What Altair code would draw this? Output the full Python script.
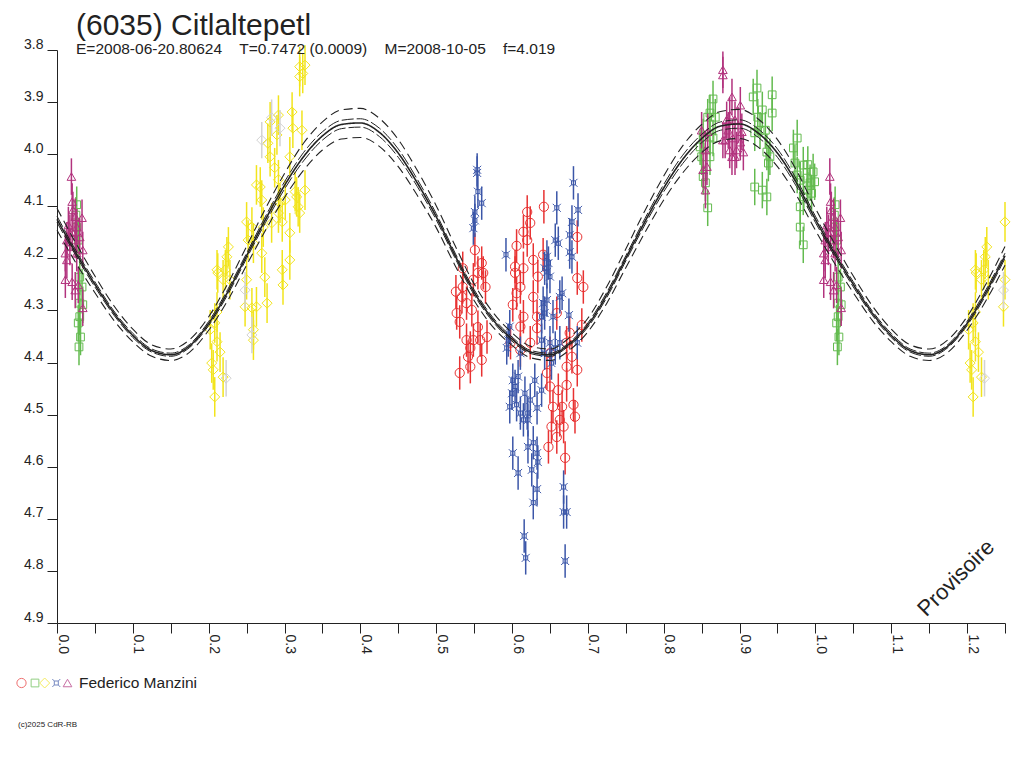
import altair as alt
import pandas as pd

TITLE = "(6035) Citlaltepetl"
SUBTITLE = "E=2008-06-20.80624\u00a0\u00a0\u00a0\u00a0T=0.7472 (0.0009)\u00a0\u00a0\u00a0\u00a0M=2008-10-05\u00a0\u00a0\u00a0\u00a0f=4.019"
OBSERVER = "Federico Manzini"
WATERMARK = "Provisoire"
COPYRIGHT = "(c)2025 CdR-RB"

x_ticks = [0.0, 0.05, 0.1, 0.15, 0.2, 0.25, 0.3, 0.35, 0.4, 0.45, 0.5, 0.55, 0.6,
           0.65, 0.7, 0.75, 0.8, 0.85, 0.9, 0.95, 1.0, 1.05, 1.1, 1.15, 1.2, 1.25]
y_ticks = [3.8, 3.9, 4.0, 4.1, 4.2, 4.3, 4.4, 4.5, 4.6, 4.7, 4.8, 4.9]

# model curve (phase 0..1 step 0.025)
curve_mag = [4.125, 4.19, 4.25, 4.305, 4.348, 4.377, 4.385, 4.368, 4.325, 4.265,
             4.195, 4.125, 4.06, 4.005, 3.965, 3.943, 3.940, 3.958, 3.998, 4.055,
             4.12, 4.195, 4.265, 4.318, 4.355, 4.380, 4.385, 4.365, 4.328, 4.27,
             4.20, 4.13, 4.065, 4.01, 3.97, 3.946, 3.942, 3.960, 3.998, 4.055, 4.125]
outer_hw = [0.021, 0.019, 0.016, 0.014, 0.012, 0.011, 0.011, 0.012, 0.013, 0.016,
            0.018, 0.021, 0.023, 0.026, 0.027, 0.028, 0.028, 0.027, 0.026, 0.024,
            0.021, 0.019, 0.016, 0.014, 0.012, 0.011, 0.011, 0.012, 0.013, 0.016,
            0.018, 0.021, 0.023, 0.026, 0.027, 0.028, 0.028, 0.027, 0.026, 0.024, 0.021]
inner_hw = [0.006, 0.005, 0.005, 0.004, 0.004, 0.003, 0.003, 0.003, 0.004, 0.005,
            0.005, 0.006, 0.007, 0.008, 0.008, 0.008, 0.008, 0.008, 0.008, 0.007,
            0.006, 0.005, 0.005, 0.004, 0.004, 0.003, 0.003, 0.003, 0.004, 0.005,
            0.005, 0.006, 0.007, 0.008, 0.008, 0.008, 0.008, 0.008, 0.008, 0.007, 0.006]

red_phase = [0.531, 0.526, 0.527, 0.535, 0.535, 0.534, 0.540, 0.545, 0.542, 0.551, 0.547, 0.549,
             0.540, 0.555, 0.560, 0.560, 0.565, 0.558, 0.567, 0.562, 0.555, 0.549, 0.531, 0.545,
             0.620, 0.642, 0.624, 0.615, 0.606, 0.620, 0.604, 0.604, 0.615, 0.628, 0.641, 0.634,
             0.606, 0.611, 0.628, 0.601, 0.615, 0.633, 0.611, 0.633, 0.624, 0.611, 0.598, 0.646,
             0.650, 0.654, 0.652, 0.659, 0.648, 0.663, 0.666, 0.668, 0.672, 0.670, 0.681, 0.683,
             0.679, 0.676, 0.686, 0.694, 0.692, 0.686, 0.686, 0.672, 0.659, 0.650, 0.661, 0.672]
red_mag = [4.420, 4.264, 4.305, 4.219, 4.255, 4.274, 4.286, 4.408, 4.389, 4.184, 4.299, 4.357,
           4.357, 4.332, 4.209, 4.395, 4.255, 4.357, 4.351, 4.228, 4.228, 4.241, 4.322, 4.372,
           4.111, 4.101, 4.132, 4.149, 4.176, 4.165, 4.216, 4.228, 4.219, 4.203, 4.193, 4.235,
           4.267, 4.255, 4.274, 4.289, 4.312, 4.312, 4.331, 4.334, 4.362, 4.376, 4.362, 4.420,
           4.446, 4.485, 4.523, 4.543, 4.562, 4.510, 4.485, 4.523, 4.443, 4.583, 4.481, 4.504,
           4.389, 4.343, 4.238, 4.255, 4.328, 4.159, 4.414, 4.362, 4.305, 4.382, 4.453, 4.408]

blue_phase = [0.554, 0.554, 0.555, 0.560, 0.551, 0.549, 0.551,
              0.592, 0.593, 0.597, 0.595, 0.601, 0.600, 0.604, 0.597, 0.606, 0.608, 0.611, 0.601,
              0.608, 0.611, 0.615, 0.620, 0.621, 0.624, 0.617, 0.630, 0.633, 0.621, 0.628, 0.633,
              0.634, 0.626, 0.633, 0.628, 0.616, 0.618, 0.639, 0.643, 0.639, 0.650, 0.652, 0.646,
              0.648, 0.646, 0.643, 0.650, 0.657, 0.659, 0.661, 0.666, 0.663, 0.646, 0.641, 0.643,
              0.654, 0.639, 0.676, 0.679, 0.681, 0.687, 0.676, 0.679, 0.675, 0.686, 0.663, 0.657,
              0.668, 0.668, 0.672, 0.670]
blue_mag = [4.030, 4.036, 4.072, 4.094, 4.111, 4.142, 4.127,
            4.193, 4.372, 4.331, 4.357, 4.434, 4.459, 4.446, 4.485, 4.481, 4.427, 4.382, 4.574,
            4.612, 4.497, 4.510, 4.497, 4.510, 4.472, 4.459, 4.434, 4.487, 4.562, 4.554, 4.574,
            4.591, 4.606, 4.643, 4.669, 4.733, 4.775, 4.453, 4.382, 4.357, 4.362, 4.401, 4.226,
            4.209, 4.197, 4.219, 4.235, 4.165, 4.103, 4.171, 4.267, 4.274, 4.280, 4.286, 4.305,
            4.312, 4.312, 4.155, 4.130, 4.055, 4.107, 4.188, 4.197, 4.309, 4.362, 4.362, 4.372,
            4.639, 4.687, 4.687, 4.781]

yellow_phase = [0.208, 0.219, 0.204, 0.206, 0.215, 0.211, 0.202, 0.211, 0.208, 0.212, 0.211, 0.222,
                0.224, 0.226, 0.219, 0.228, 0.248, 0.257, 0.259, 0.259, 0.263, 0.277, 0.250, 0.252,
                0.250, 0.257, 0.259, 0.270, 0.274, 0.272, 0.283, 0.263, 0.270, 0.268, 0.278, 0.281,
                0.281, 0.292, 0.290, 0.287, 0.292, 0.294, 0.301, 0.292, 0.297, 0.297, 0.298, 0.307,
                0.307, 0.307, 0.310, 0.311, 0.314, 0.316, 0.318, 0.320, 0.327, 0.323, 0.320, 0.324,
                0.320, 0.327]
yellow_mag = [4.466, 4.428, 4.401, 4.414, 4.380, 4.360, 4.337, 4.303, 4.324, 4.228, 4.222, 4.222,
              4.197, 4.178, 4.241, 4.241, 4.293, 4.295, 4.337, 4.357, 4.293, 4.286, 4.241, 4.165,
              4.130, 4.140, 4.171, 4.190, 4.236, 4.140, 4.132, 4.059, 4.088, 4.063, 3.979, 4.005,
              3.938, 3.925, 3.963, 4.026, 4.049, 4.094, 4.088, 4.113, 4.130, 4.222, 4.251, 4.203,
              4.151, 4.005, 3.919, 3.950, 4.072, 4.082, 4.101, 4.113, 4.069, 3.954, 3.832, 3.845,
              3.851, 3.829]

gray_phase = [0.223, 0.257, 0.270, 0.283, 0.294, 0.248]
gray_mag = [4.430, 4.347, 3.973, 3.930, 3.950, 4.261]

green_phase = [0.026, 0.025, 0.028, 0.030, 0.033, 0.030, 0.034, 0.030, 0.028, 0.031, 0.029, 0.026,
               0.858, 0.855, 0.852, 0.850, 0.848, 0.852, 0.858, 0.861, 0.865, 0.868, 0.861, 0.865,
               0.861, 0.918, 0.923, 0.943, 0.930, 0.924, 0.920, 0.927, 0.934, 0.943, 0.936, 0.940,
               0.938, 0.920, 0.930, 0.936, 0.976, 0.971, 0.973, 0.976, 0.980, 0.984, 0.989, 0.993,
               0.997, 0.999, 0.990, 0.984, 0.980, 0.980, 0.995, 0.984, 0.990]
green_mag = [4.097, 4.117, 4.165, 4.236, 4.255, 4.286, 4.289, 4.312, 4.324, 4.351, 4.370, 4.140,
             4.103, 4.055, 4.043, 4.005, 3.986, 3.967, 3.929, 3.921, 3.894, 3.929, 3.967, 3.969,
             4.005, 3.890, 3.873, 3.886, 3.915, 3.929, 3.959, 3.954, 3.954, 3.921, 3.996, 4.005,
             4.017, 4.063, 4.069, 4.082, 3.969, 3.988, 4.017, 4.040, 4.050, 4.021, 4.046, 4.055,
             4.034, 4.053, 4.069, 4.082, 4.101, 4.140, 4.075, 4.174, 4.020]

purple_phase = [0.019, 0.020, 0.021, 0.024, 0.033, 0.015, 0.026, 0.020, 0.030, 0.013, 0.024, 0.011,
                0.017, 0.034, 0.026, 0.011, 0.020, 0.024, 0.028, 0.034, 0.013, 0.017,
                0.878, 0.878, 0.890, 0.901, 0.887, 0.883, 0.894, 0.898, 0.885, 0.881, 0.891, 0.903,
                0.901, 0.887, 0.896, 0.905, 0.894, 0.890, 0.850, 0.858, 0.855, 0.857, 0.855, 0.852,
                0.878]
purple_mag = [4.043, 4.091, 4.107, 4.120, 4.122, 4.136, 4.140, 4.149, 4.159, 4.165, 4.165, 4.190,
              4.178, 4.184, 4.190, 4.241, 4.245, 4.261, 4.251, 4.295, 4.203, 4.151,
              3.848, 3.838, 3.890, 3.906, 3.925, 3.934, 3.934, 3.944, 3.954, 3.973, 3.969, 3.957,
              3.977, 3.992, 3.992, 3.996, 4.005, 4.005, 3.954, 3.957, 3.992, 4.024, 4.069, 4.030,
              3.973]

BLUE_PATH = ("M-0.5,-0.5L0.5,-0.5L0.5,0.5L-0.5,0.5Z "
             "M-0.5,-0.5L-1,-1 M0.5,-0.5L1,-1 M0.5,0.5L1,1 M-0.5,0.5L-1,1")

sessions = [
    # name, phases, mags, error, color, shape, size
    ("yellow", yellow_phase, yellow_mag, 0.038, "#f2e41c", "diamond", 100),
    ("gray", gray_phase, gray_mag, 0.035, "#d2d2d2", "diamond", 100),
    ("green", green_phase, green_mag, 0.035, "#63bb4f", "square", 60),
    ("red", red_phase, red_mag, 0.032, "#e83232", "circle", 85),
    ("blue", blue_phase, blue_mag, 0.032, "#3b56a8", BLUE_PATH, 64),
    ("purple", purple_phase, purple_mag, 0.035, "#b2337e", "triangle-up", 75),
]

FONT = "Liberation Sans"
INK = "#222222"

xs = alt.Scale(domain=[0, 1.25], nice=False, zero=False)
ys = alt.Scale(domain=[3.8, 4.9], reverse=True, nice=False, zero=False)
x_axis = alt.Axis(values=x_ticks, title=None, grid=False, labelAngle=90, labelAlign="left",
                  labelBaseline="alphabetic", labelOffset=1, labelPadding=1, tickSize=10,
                  labelExpr="(round(datum.value*100) % 10 == 0) ? format(datum.value, '.1f') : ''",
                  labelFont=FONT, labelFontSize=14, labelColor=INK, domainColor=INK,
                  tickColor=INK, labelFlush=False, labelOverlap=False, labelBound=False)
y_axis = alt.Axis(values=y_ticks, title=None, grid=False, format=".1f", labelAlign="right",
                  labelBaseline="alphabetic", labelOffset=-2, labelPadding=4, tickSize=10,
                  labelFont=FONT, labelFontSize=14, labelColor=INK, domainColor=INK,
                  tickColor=INK, labelFlush=False, labelOverlap=False, labelBound=False)


def wrap(df):
    extra = df[(df["phase"] + 1 <= 1.25) & (df["phase"] > 0)].copy()
    extra["phase"] = extra["phase"] + 1
    return pd.concat([df, extra], ignore_index=True)


layers = []
for name, ph, mg, err, color, shape, size in sessions:
    df = wrap(pd.DataFrame({"phase": ph, "mag": mg}))
    df["lo"] = df["mag"] - err
    df["hi"] = df["mag"] + err
    base = alt.Chart(df)
    layers.append(base.mark_rule(color=color, strokeWidth=1.5).encode(
        x=alt.X("phase:Q", scale=xs, axis=x_axis),
        y=alt.Y("lo:Q", scale=ys, axis=y_axis),
        y2="hi:Q"))
    layers.append(base.mark_point(color=color, shape=shape, size=size, filled=False,
                                  strokeWidth=1, opacity=1).encode(
        x=alt.X("phase:Q", scale=xs, axis=x_axis),
        y=alt.Y("mag:Q", scale=ys, axis=y_axis)))

curve = pd.DataFrame({"phase": [round(0.025 * i, 3) for i in range(41)],
                      "center": curve_mag, "ohw": outer_hw, "ihw": inner_hw})
curve = wrap(curve)
curve["out_hi"] = curve["center"] - curve["ohw"]
curve["out_lo"] = curve["center"] + curve["ohw"]
curve["in_hi"] = curve["center"] - curve["ihw"]
curve["in_lo"] = curve["center"] + curve["ihw"]
curve = curve.sort_values("phase")

cbase = alt.Chart(curve)
for field, dash, sw in [("out_hi", [9, 5], 1.1), ("out_lo", [9, 5], 1.1),
                        ("in_hi", [12, 3], 1.0), ("in_lo", [12, 3], 1.0),
                        ("center", [1, 0], 1.6)]:
    layers.append(cbase.mark_line(color=INK, strokeWidth=sw, strokeDash=dash,
                                  interpolate="monotone").encode(
        x=alt.X("phase:Q", scale=xs, axis=x_axis),
        y=alt.Y(field + ":Q", scale=ys, axis=y_axis)))


def text_layer(txt, x, y, size, **kw):
    return alt.Chart(pd.DataFrame({"t": [txt]})).mark_text(
        font=FONT, fontSize=size, color=INK, **kw).encode(
        text="t:N", x=alt.value(x), y=alt.value(y))


layers.append(text_layer(TITLE, 19, -15, 30, align="left", baseline="alphabetic"))
layers.append(text_layer(SUBTITLE, 19, 4, 15.5, align="left", baseline="alphabetic"))
layers.append(text_layer(WATERMARK, 899, 528, 22, align="center", baseline="middle", angle=315))
layers.append(text_layer(OBSERVER, 22, 638, 15.5, align="left", baseline="alphabetic"))
layers.append(text_layer(COPYRIGHT, -39, 677, 8, align="left", baseline="alphabetic"))

legend_x = [-35.5, -22, -12.3, -0.7, 10.5]
legend_sessions = [sessions[3], sessions[2], sessions[0], sessions[4], sessions[5]]
for lx, (name, ph, mg, err, color, shape, size) in zip(legend_x, legend_sessions):
    layers.append(alt.Chart(pd.DataFrame({"s": [name]})).mark_point(
        color=color, shape=shape, size=size, filled=False, strokeWidth=1).encode(
        x=alt.value(lx), y=alt.value(633)))

chart = alt.layer(*layers).properties(
    width=948, height=573,
    padding={"left": 49, "top": 42, "right": 10, "bottom": 130},
    autosize=alt.AutoSizeParams(type="none"),
    background="white",
).configure_view(stroke=None)

chart.save("out.html", embed_options={"renderer": "svg", "actions": False})
